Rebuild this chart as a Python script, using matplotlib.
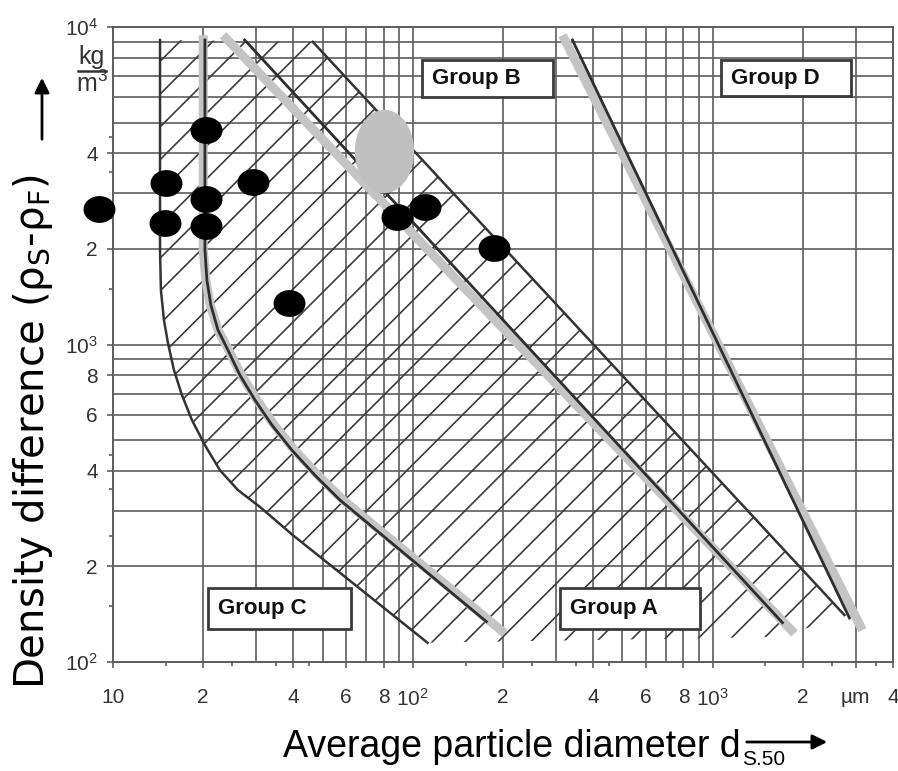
import numpy as np
import matplotlib.pyplot as plt
from matplotlib.path import Path
from matplotlib.patches import Polygon, Rectangle
from matplotlib.collections import LineCollection
from matplotlib.ticker import FixedLocator, NullFormatter

plt.rcParams['mathtext.default'] = 'regular'

# ---- data (d in µm, density difference in kg/m3) ----
# boundary C/A (dark line with grey shadow)
ca_d = [20.26, 20.26, 20.57, 21.21, 22.39, 24.17, 26.5, 29.74, 33.88, 39.5, 47.1, 57.1, 176]
ca_rho = [9100, 1984, 1596, 1331, 1111, 961, 801, 669, 558, 465, 388, 324, 134]
ca_shadow_d = [20.0, 20.0, 20.4, 21.1, 22.4, 24.3, 26.8, 30.2, 34.5, 40.3, 48.2, 58.5, 203]
ca_shadow_rho = [9420, 1984, 1596, 1331, 1111, 961, 801, 669, 558, 465, 388, 324, 123]
# boundary A/B
ab_d = [27.5, 1711]
ab_rho = [9100, 133]
ab_shadow_d = [23.3, 1877]
ab_shadow_rho = [9420, 123]
# boundary B/D
bd_d = [341, 2862]
bd_rho = [9100, 137.6]
bd_shadow_d = [316, 3162]
bd_shadow_rho = [9420, 126]
# outer lines of the hatched transition zone
left_d = [14.35, 14.35, 14.45, 14.79, 15.25, 15.97, 16.98, 18.34, 20.26, 22.73, 26.1, 30.9, 40, 112]
left_rho = [9100, 1984, 1484, 1194, 1011, 831, 693, 578, 482, 402, 348, 308, 250, 115]
right_d = [46.4, 2754]
right_rho = [8980, 140.6]
bottom_d = [112, 1700, 2754]
bottom_rho = [115, 120, 140.6]

# measured powders
pts_d = [9.0, 15.0, 14.9, 20.4, 20.4, 20.4, 29.3, 38.6, 88.5, 110, 186]
pts_rho = [2670, 3230, 2410, 4750, 2870, 2360, 3250, 1350, 2520, 2710, 2010]
grey_d = [80]
grey_rho = [4060]

x_tick_vals = [10, 20, 40, 60, 80, 100, 200, 400, 600, 800, 1000, 2000, 3000, 4000]
x_tick_labels = ['10', '2', '4', '6', '8', '10$^2$', '2', '4', '6', '8', '10$^3$', '2', 'µm', '4']
y_tick_vals = [100, 200, 400, 600, 800, 1000, 2000, 4000, 10000]
y_tick_labels = ['10$^2$', '2', '4', '6', '8', '10$^3$', '2', '4', '10$^4$']

groups = ['Group B', 'Group D', 'Group C', 'Group A']

# ---- figure ----
W, H = 898, 771
fig = plt.figure(figsize=(W / 100, H / 100), dpi=100)
ax_l, ax_r, ax_t, ax_b = 113, 893, 27, 662
ax = fig.add_axes([ax_l / W, (H - ax_b) / H, (ax_r - ax_l) / W, (ax_b - ax_t) / H])
ax.set_xscale('log')
ax.set_yscale('log')
ax.set_xlim(10, 4000)
ax.set_ylim(100, 10000)

gridc = '#5c5c5c'
for dec in [10, 100, 1000]:
    for m in range(1, 10):
        v = dec * m
        if 10 < v < 4000:
            ax.axvline(v, color=gridc, lw=1.2, zorder=0.5)
for dec in [100, 1000]:
    for m in range(1, 10):
        v = dec * m
        if 100 < v < 10000:
            ax.axhline(v, color=gridc, lw=1.2, zorder=0.5)
for s in ax.spines.values():
    s.set_color(gridc)
    s.set_linewidth(1.4)

tfont = ['Liberation Sans', 'DejaVu Sans']
ax.xaxis.set_major_locator(FixedLocator(x_tick_vals))
ax.xaxis.set_ticklabels(x_tick_labels)
ax.yaxis.set_major_locator(FixedLocator(y_tick_vals))
ax.yaxis.set_ticklabels(y_tick_labels)
half = [m * d for d in [10, 100, 1000] for m in [1.5, 2.5, 3.5, 4.5]]
ax.xaxis.set_minor_locator(FixedLocator([v for v in half if v < 4000]))
ax.yaxis.set_minor_locator(FixedLocator([v for v in half if 100 < v < 10000]))
ax.xaxis.set_minor_formatter(NullFormatter())
ax.yaxis.set_minor_formatter(NullFormatter())
ax.tick_params(which='both', direction='out', color=gridc, width=1.2)
ax.tick_params(which='major', length=4)
ax.tick_params(which='minor', length=3)
ax.tick_params(axis='x', which='major', pad=15)
ax.tick_params(axis='y', which='major', pad=7)
for lab in ax.get_xticklabels() + ax.get_yticklabels():
    lab.set_family(tfont)
    lab.set_fontsize(15)
    lab.set_color('#333333')

# ---- hatched transition zone ----
zone_d = left_d + bottom_d[1:] + right_d[::-1]
zone_rho = left_rho + bottom_rho[1:] + right_rho[::-1]
zone = Polygon(np.column_stack([zone_d, zone_rho]), closed=True,
               facecolor='none', edgecolor='none', transform=ax.transData)
ax.add_patch(zone)
wpx, hpx = ax_r - ax_l, ax_b - ax_t
step, phase = 32.8, 4.0
segs = []
for k in range(-25, 30):
    c = phase + step * k
    segs.append([((c - 10) / wpx, -10 / hpx), ((c + hpx + 10) / wpx, (hpx + 10) / hpx)])
hatch = LineCollection(segs, colors='#3c3c3c', linewidths=1.2, transform=ax.transAxes, zorder=1)
ax.add_collection(hatch)
hatch.set_clip_path(zone)

ax.plot(left_d, left_rho, color='#333333', lw=1.8, solid_joinstyle='round', zorder=2)
ax.plot(right_d, right_rho, color='#333333', lw=1.8, zorder=2)

shadow = '#c4c4c4'
for sd, sr in [(ca_shadow_d, ca_shadow_rho), (ab_shadow_d, ab_shadow_rho), (bd_shadow_d, bd_shadow_rho)]:
    ax.plot(sd, sr, color=shadow, lw=6.5, solid_capstyle='butt', solid_joinstyle='round', zorder=2.5)
for bd, br in [(ca_d, ca_rho), (ab_d, ab_rho), (bd_d, bd_rho)]:
    ax.plot(bd, br, color='#2e2e2e', lw=2.0, solid_joinstyle='round', zorder=3)

# ---- group boxes (axes fraction) ----
boxes = [(0.396, 0.890, 0.168, 0.058), (0.779, 0.891, 0.167, 0.057),
         (0.122, 0.052, 0.183, 0.065), (0.573, 0.052, 0.180, 0.065)]
for name, (bx, by, bw, bh) in zip(groups, boxes):
    ax.add_patch(Rectangle((bx, by), bw, bh, transform=ax.transAxes, facecolor='white',
                           edgecolor='#3a3a3a', lw=2, zorder=4))
    ax.text(bx + 0.013, by + bh / 2, name, transform=ax.transAxes, ha='left', va='center',
            fontsize=16, fontweight='bold', family='Liberation Sans', color='#111111', zorder=5)

# ---- measured points ----
t = np.linspace(0, 2 * np.pi, 64)
wide_ell = Path(np.column_stack([np.cos(t), 0.84 * np.sin(t)]), closed=True)
tall_ell = Path(np.column_stack([0.71 * np.cos(t), np.sin(t)]), closed=True)
ax.plot(pts_d, pts_rho, linestyle='none', marker=wide_ell, markersize=23,
        color='black', markeredgewidth=0, zorder=6, clip_on=False)
ax.plot(grey_d, grey_rho, linestyle='none', marker=tall_ell, markersize=60,
        color='#c0c0c0', markeredgewidth=0, zorder=6)

# ---- unit and axis titles ----
lfont = ['Liberation Sans', 'DejaVu Sans']
fig.text(92 / W, 1 - 57 / H, 'kg', ha='center', va='center', fontsize=18, family=tfont, color='#333333')
fig.text(92 / W, 1 - 84 / H, 'm$^3$', ha='center', va='center', fontsize=18, family=tfont, color='#333333')
fig.add_artist(plt.Line2D([78 / W, 106 / W], [1 - 71 / H, 1 - 71 / H], color='#333333', lw=1.8))

fig.text(33 / W, 1 - 432 / H, 'Density difference (ρ$_{S}$-ρ$_{F}$)', rotation=90,
         ha='center', va='center', fontsize=29, family=['DejaVu Sans'])
ax.annotate('', xy=(42, H - 75), xytext=(42, H - 142), xycoords='figure pixels',
            textcoords='figure pixels',
            arrowprops=dict(arrowstyle='-|>', lw=2, color='black', mutation_scale=22))

fig.text(283 / W, 1 - 757 / H, 'Average particle diameter d', ha='left', va='baseline',
         fontsize=27, family=lfont)
fig.text(742 / W, 1 - 765 / H, 'S.50', ha='left', va='baseline', fontsize=15, family=lfont)
ax.annotate('', xy=(830, H - 742), xytext=(744, H - 742), xycoords='figure pixels',
            textcoords='figure pixels',
            arrowprops=dict(arrowstyle='-|>', lw=2, color='black', mutation_scale=22))

fig.savefig('out.png', dpi=100)
